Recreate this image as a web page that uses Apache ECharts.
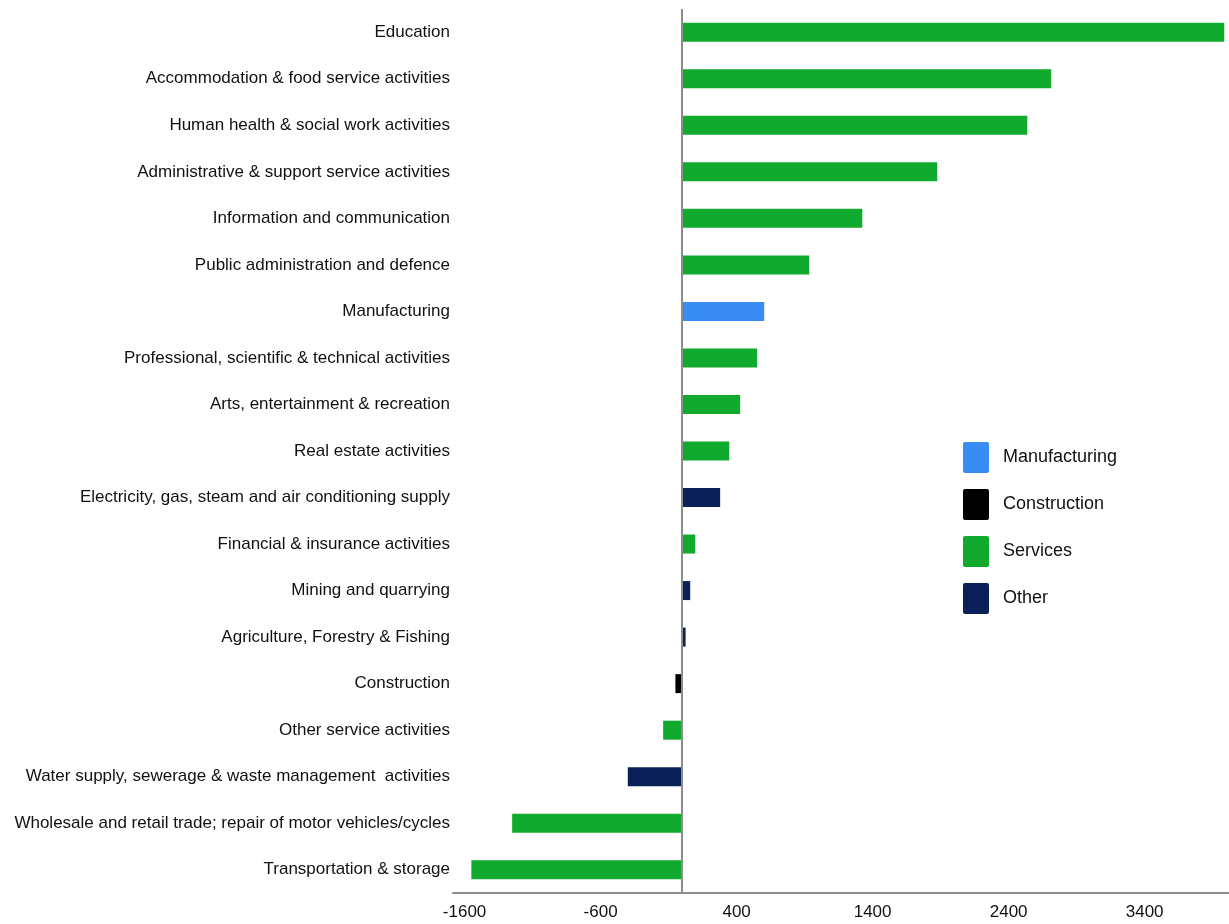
<!DOCTYPE html>
<html>
<head>
<meta charset="utf-8">
<script src="https://cdn.jsdelivr.net/npm/echarts@6/dist/echarts.min.js"></script>
<style>
html,body{margin:0;padding:0;background:#fff;}
#main{width:1229px;height:924px;}
</style>
</head>
<body>
<div id="main"></div>
<script>
const categories = [
  "Education",
  "Accommodation & food service activities",
  "Human health & social work activities",
  "Administrative & support service activities",
  "Information and communication",
  "Public administration and defence",
  "Manufacturing",
  "Professional, scientific & technical activities",
  "Arts, entertainment & recreation",
  "Real estate activities",
  "Electricity, gas, steam and air conditioning supply",
  "Financial & insurance activities",
  "Mining and quarrying",
  "Agriculture, Forestry & Fishing",
  "Construction",
  "Other service activities",
  "Water supply, sewerage & waste management  activities",
  "Wholesale and retail trade; repair of motor vehicles/cycles",
  "Transportation & storage"
];
const values = [3985, 2713, 2537, 1875, 1324, 934, 603, 551, 426, 346, 279, 96, 59, 25, -50, -140, -400, -1250, -1550];
const sectors = ["Services","Services","Services","Services","Services","Services","Manufacturing","Services","Services","Services","Other","Services","Other","Other","Construction","Services","Other","Services","Services"];
const groups = ["Manufacturing", "Construction", "Services", "Other"];
const groupColors = ["#3a8cf5", "#000000", "#0faa2e", "#0a2157"];
const xTicks = [-1600, -600, 400, 1400, 2400, 3400];

const chart = echarts.init(document.getElementById('main'));
const FONT = '"Liberation Sans", Arial, sans-serif';

const series = groups.map((g, gi) => ({
  name: g,
  type: 'bar',
  stack: 'all',
  barWidth: 19,
  itemStyle: { color: groupColors[gi] },
  data: values.map((v, i) => sectors[i] === g ? v : null),
  markLine: gi === 0 ? {
    silent: true,
    symbol: 'none',
    label: { show: false },
    lineStyle: { color: '#8c8c8c', width: 2, type: 'solid' },
    data: [{ xAxis: 0 }]
  } : undefined
}));

chart.setOption({
  animation: false,
  textStyle: { fontFamily: FONT },
  grid: { left: 453, right: 0, top: 9, bottom: 31, containLabel: false },
  legend: {
    orient: 'vertical',
    left: 963,
    top: 442,
    padding: 0,
    itemWidth: 26,
    itemHeight: 31,
    itemGap: 16,
    icon: 'path://M2,0 H24 Q26,0 26,2 V29 Q26,31 24,31 H2 Q0,31 0,29 V2 Q0,0 2,0 Z',
    textStyle: { fontSize: 18, color: '#111', fontFamily: FONT, padding: [2, 0, 0, 9] },
    data: groups
  },
  xAxis: {
    type: 'value',
    min: -1685,
    max: 4020,
    axisLine: { show: true, lineStyle: { color: '#8c8c8c', width: 2 } },
    axisTick: { show: false },
    splitLine: { show: false },
    axisLabel: {
      customValues: xTicks,
      formatter: v => String(v),
      fontSize: 17,
      color: '#111',
      margin: 11,
      fontFamily: FONT
    }
  },
  yAxis: {
    type: 'category',
    inverse: true,
    data: categories,
    axisLine: { show: false },
    axisTick: { show: false },
    axisLabel: { fontSize: 17, color: '#111', margin: 3, fontFamily: FONT }
  },
  series: series
});
</script>
</body>
</html>
